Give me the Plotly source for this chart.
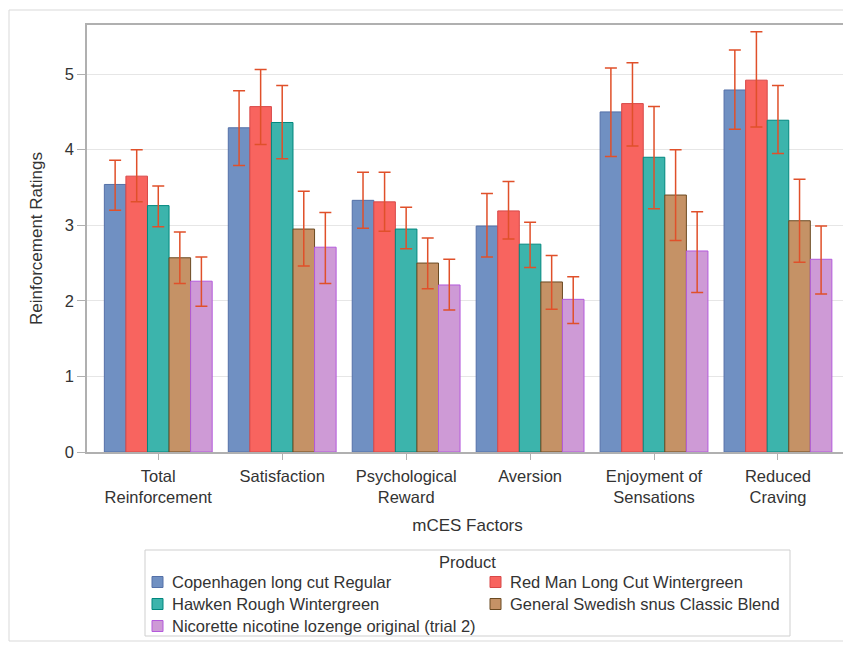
import plotly.graph_objects as go

categories = ["Total<br>Reinforcement", "Satisfaction", "Psychological<br>Reward",
              "Aversion", "Enjoyment of<br>Sensations", "Reduced<br>Craving"]

products = ["Copenhagen long cut Regular", "Red Man Long Cut Wintergreen",
            "Hawken Rough Wintergreen", "General Swedish snus Classic Blend",
            "Nicorette nicotine lozenge original (trial 2)"]

copenhagen_mean = [3.54, 4.29, 3.33, 2.99, 4.50, 4.79]
copenhagen_upper = [3.86, 4.78, 3.70, 3.42, 5.08, 5.32]
copenhagen_lower = [3.20, 3.79, 2.96, 2.58, 3.91, 4.27]

redman_mean = [3.65, 4.57, 3.31, 3.19, 4.61, 4.92]
redman_upper = [4.00, 5.06, 3.70, 3.58, 5.15, 5.56]
redman_lower = [3.31, 4.07, 2.92, 2.82, 4.05, 4.30]

hawken_mean = [3.26, 4.36, 2.95, 2.75, 3.90, 4.39]
hawken_upper = [3.52, 4.85, 3.24, 3.04, 4.57, 4.85]
hawken_lower = [2.98, 3.88, 2.69, 2.44, 3.22, 3.95]

general_mean = [2.57, 2.95, 2.50, 2.25, 3.40, 3.06]
general_upper = [2.91, 3.45, 2.83, 2.60, 4.00, 3.61]
general_lower = [2.23, 2.46, 2.16, 1.89, 2.80, 2.51]

nicorette_mean = [2.26, 2.71, 2.21, 2.02, 2.66, 2.55]
nicorette_upper = [2.58, 3.17, 2.55, 2.32, 3.18, 2.99]
nicorette_lower = [1.93, 2.23, 1.88, 1.70, 2.11, 2.09]

fill_colors = ["#7090C2", "#F8645F", "#3CB4AC", "#C59266", "#CE9AD6"]
edge_colors = ["#5470A8", "#D84848", "#00877E", "#6B4A22", "#B45ADC"]

series = [
    (copenhagen_mean, copenhagen_upper, copenhagen_lower),
    (redman_mean, redman_upper, redman_lower),
    (hawken_mean, hawken_upper, hawken_lower),
    (general_mean, general_upper, general_lower),
    (nicorette_mean, nicorette_upper, nicorette_lower),
]

FONT = "Liberation Sans, Arial, sans-serif"
TXT = "#333333"
FS = 16.5

fig = go.Figure()
for name, (m, up, lo), fill, edge in zip(products, series, fill_colors, edge_colors):
    fig.add_trace(go.Bar(
        x=categories, y=m, name=name, showlegend=False,
        marker=dict(color=fill, line=dict(color=edge, width=1)),
        error_y=dict(type="data", symmetric=False,
                     array=[u - v for u, v in zip(up, m)],
                     arrayminus=[v - l for v, l in zip(m, lo)],
                     color="#E0502A", thickness=1.5, width=6),
    ))

# page has an 8px body margin; work in page pixels and convert
OFF = 8
W, H = 851 - OFF, 647 - OFF
L, R, T, B = 87 - OFF, W - (848 - OFF), 25 - OFF, H - (452 - OFF)
pw, ph = W - L - R, H - T - B

def px_x(p):
    return (p - OFF - L) / pw

def px_y(p):
    return (H - B - (p - OFF)) / ph

shapes = [
    # outer figure frame
    dict(type="rect", xref="paper", yref="paper",
         x0=px_x(9), x1=px_x(860), y0=px_y(641), y1=px_y(10),
         line=dict(color="#d9d9d9", width=1), layer="below"),
    # legend box
    dict(type="rect", xref="paper", yref="paper",
         x0=px_x(145), x1=px_x(790), y0=px_y(636), y1=px_y(550),
         line=dict(color="#cfcfcf", width=1), fillcolor="white", layer="below"),
]
annotations = [
    dict(text="Product", xref="paper", yref="paper",
         x=px_x(467.5), y=px_y(562), xanchor="center", yanchor="middle",
         showarrow=False, font=dict(family=FONT, size=FS, color=TXT)),
]

legend_col_x = [152, 490]
legend_row_y = [582, 604, 626]
for i, (name, fill, edge) in enumerate(zip(products, fill_colors, edge_colors)):
    cx = legend_col_x[i % 2]
    cy = legend_row_y[i // 2]
    shapes.append(dict(type="rect", xref="paper", yref="paper",
                       x0=px_x(cx), x1=px_x(cx + 11),
                       y0=px_y(cy + 5.5), y1=px_y(cy - 5.5),
                       fillcolor=fill, line=dict(color=edge, width=1)))
    annotations.append(dict(text=name, xref="paper", yref="paper",
                            x=px_x(cx + 18), y=px_y(cy),
                            xanchor="left", yanchor="middle", showarrow=False,
                            font=dict(family=FONT, size=FS, color=TXT)))

fig.update_layout(
    width=W, height=H,
    margin=dict(l=L, r=R, t=T, b=B, autoexpand=False),
    paper_bgcolor="white", plot_bgcolor="white",
    font=dict(family=FONT, size=FS, color=TXT),
    barmode="group", bargap=0.13, bargroupgap=0,
    showlegend=False,
    xaxis=dict(
        range=[-0.575, 5.565],
        showline=True, linecolor="#b0b0b0", linewidth=1.5, mirror=True,
        ticks="outside", ticklen=6, tickcolor="#b0b0b0",
        ticklabelstandoff=2,
        tickfont=dict(family=FONT, size=FS, color=TXT),
        title=dict(text="mCES Factors", standoff=14,
                   font=dict(family=FONT, size=17, color=TXT)),
    ),
    yaxis=dict(
        range=[0, 5.65],
        tickvals=[0, 1, 2, 3, 4, 5],
        showline=True, linecolor="#b0b0b0", linewidth=1.5, mirror=True,
        ticks="outside", ticklen=8, tickcolor="#b0b0b0",
        showgrid=True, gridcolor="#e6e6e6", gridwidth=1,
        zeroline=False,
        tickfont=dict(family=FONT, size=FS, color=TXT),
        title=dict(text="Reinforcement Ratings", standoff=18,
                   font=dict(family=FONT, size=17, color=TXT)),
    ),
    shapes=shapes,
    annotations=annotations,
)

fig.write_html("out.html")
